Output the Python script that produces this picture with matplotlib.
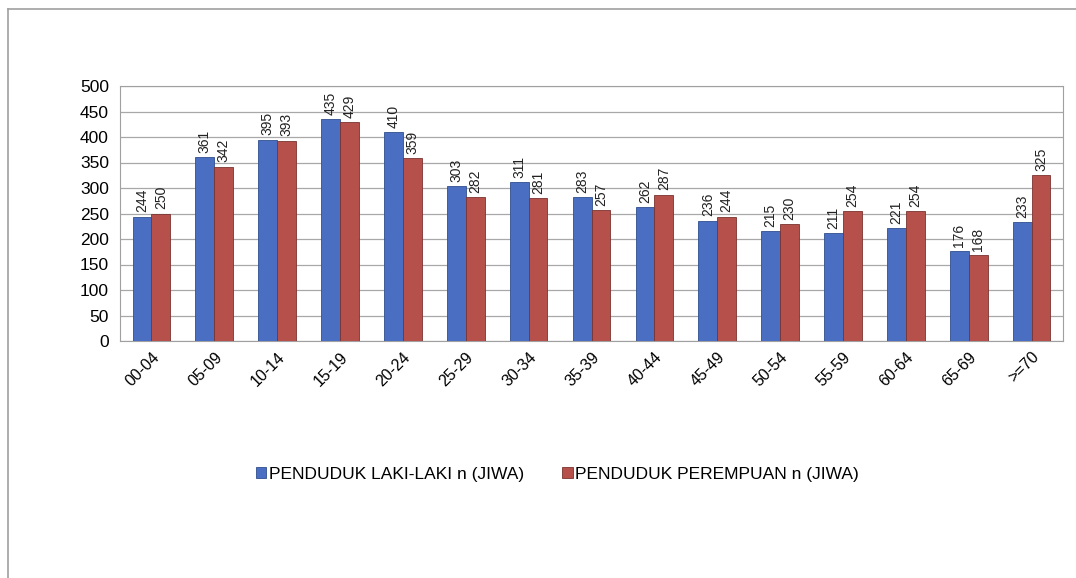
import matplotlib
matplotlib.use("Agg")
import matplotlib.pyplot as plt
import numpy as np
from matplotlib.lines import Line2D

categories = ["00-04", "05-09", "10-14", "15-19", "20-24", "25-29", "30-34", "35-39",
              "40-44", "45-49", "50-54", "55-59", "60-64", "65-69", ">=70"]
laki = [244, 361, 395, 435, 410, 303, 311, 283, 262, 236, 215, 211, 221, 176, 233]
perempuan = [250, 342, 393, 429, 359, 282, 281, 257, 287, 244, 230, 254, 254, 168, 325]
series_names = ["PENDUDUK LAKI-LAKI n (JIWA)", "PENDUDUK PEREMPUAN n (JIWA)"]
yticks = [0, 50, 100, 150, 200, 250, 300, 350, 400, 450, 500]

plt.rcParams['font.family'] = ['Liberation Sans', 'DejaVu Sans']

fig = plt.figure(figsize=(10.76, 5.78), dpi=100)
fig.patch.set_facecolor('white')
# outer chart frame (left and top edges visible in the scan)
fig.add_artist(Line2D([8/1076, 8/1076], [0, 1-9/578], transform=fig.transFigure,
                      color='#a0a0a0', linewidth=1.2))
fig.add_artist(Line2D([8/1076, 1.0], [1-9/578, 1-9/578], transform=fig.transFigure,
                      color='#a0a0a0', linewidth=1.2))

ax = fig.add_axes([120/1076, 1-341/578, 943/1076, 255/578])
x = np.arange(len(categories))
w = 0.3
blue = '#4a6fc2'
red = '#b5504b'
b1 = ax.bar(x - w/2, laki, w, color=blue, edgecolor='#2f4f8f', linewidth=0.6, label=series_names[0], zorder=3)
b2 = ax.bar(x + w/2, perempuan, w, color=red, edgecolor='#7a3330', linewidth=0.6, label=series_names[1], zorder=3)

for bars, vals in ((b1, laki), (b2, perempuan)):
    for rect, v in zip(bars, vals):
        ax.annotate(str(v), (rect.get_x() + rect.get_width()/2, rect.get_height()),
                    xytext=(0, 3), textcoords='offset points', rotation=90,
                    ha='center', va='bottom', fontsize=10, color='#222222')

ax.set_xlim(-0.5, len(categories) - 0.5)
ax.set_ylim(0, 500)
ax.set_yticks(yticks)
ax.tick_params(axis='y', labelsize=12.5, length=0, pad=8)
ax.set_xticks(x)
ax.set_xticklabels(categories, rotation=45, ha='right', rotation_mode='anchor', fontsize=11.5)
ax.tick_params(axis='x', length=0, pad=6)
ax.grid(axis='y', color='#a8a8a8', linewidth=0.9, zorder=0)
for s in ax.spines.values():
    s.set_color('#a0a0a0')
    s.set_linewidth(0.8)

fig.legend(handles=[b1, b2], labels=series_names, loc='center', bbox_to_anchor=(0.518, 1-474/578),
           ncol=2, frameon=False, fontsize=12.5, handlelength=0.6, handleheight=0.6,
           handletextpad=0.15, columnspacing=2.2)

fig.savefig("out.png", dpi=100)
